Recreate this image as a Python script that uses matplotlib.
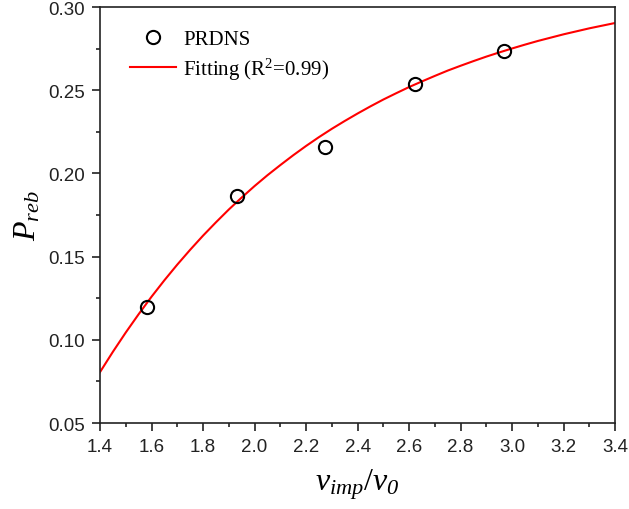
import numpy as np
import matplotlib
matplotlib.use("Agg")
import matplotlib.pyplot as plt
from matplotlib.ticker import MultipleLocator, FormatStrFormatter

# PRDNS data points
v_ratio = [1.583, 1.932, 2.274, 2.623, 2.969]
p_reb = [0.1197, 0.1864, 0.2159, 0.2537, 0.2736]

# fitted curve
fit_x = [1.40, 1.45, 1.50, 1.55, 1.60, 1.65, 1.70, 1.75, 1.80, 1.85,
         1.90, 1.95, 2.00, 2.05, 2.10, 2.15, 2.20, 2.25, 2.30, 2.35,
         2.40, 2.45, 2.50, 2.55, 2.60, 2.65, 2.70, 2.75, 2.80, 2.85,
         2.90, 2.95, 3.00, 3.05, 3.10, 3.15, 3.20, 3.25, 3.30, 3.35, 3.40]
fit_y = [0.0806, 0.0928, 0.1044, 0.1154, 0.1259, 0.1358, 0.1452, 0.1541,
         0.1626, 0.1706, 0.1783, 0.1855, 0.1924, 0.1989, 0.2050, 0.2109,
         0.2165, 0.2218, 0.2268, 0.2315, 0.2360, 0.2403, 0.2444, 0.2482,
         0.2519, 0.2553, 0.2586, 0.2618, 0.2647, 0.2675, 0.2702, 0.2727,
         0.2751, 0.2774, 0.2796, 0.2816, 0.2836, 0.2854, 0.2872, 0.2888,
         0.2904]

plt.rcParams["mathtext.fontset"] = "custom"
plt.rcParams["mathtext.it"] = "Liberation Serif:italic"
plt.rcParams["mathtext.sf"] = "Liberation Serif:italic"
plt.rcParams["mathtext.rm"] = "Liberation Serif"

fig = plt.figure(figsize=(6.29, 5.10), dpi=100)
ax = fig.add_axes([0.159, 0.1686, 0.819, 0.8157])

ax.plot(v_ratio, p_reb, "o", ms=9.5, mfc="none", mec="black", mew=1.5,
        label="PRDNS", zorder=3)
ax.plot(fit_x, fit_y, color="red", lw=1.5,
        label="Fitting (R$^{\\mathrm{2}}$=0.99)")

ax.set_xlim(1.4, 3.4)
ax.set_ylim(0.05, 0.30)
ax.xaxis.set_major_locator(MultipleLocator(0.2))
ax.xaxis.set_minor_locator(MultipleLocator(0.1))
ax.yaxis.set_major_locator(MultipleLocator(0.05))
ax.yaxis.set_minor_locator(MultipleLocator(0.025))
ax.xaxis.set_major_formatter(FormatStrFormatter("%.1f"))
ax.yaxis.set_major_formatter(FormatStrFormatter("%.2f"))

ax.tick_params(which="both", direction="out", top=False, right=False,
               width=1.2, colors="#222222")
ax.tick_params(which="major", length=6, labelsize=13.5, pad=5)
ax.tick_params(which="minor", length=3)
for lab in ax.get_xticklabels() + ax.get_yticklabels():
    lab.set_fontfamily("Liberation Sans")
for s in ax.spines.values():
    s.set_linewidth(1.2)
    s.set_color("#222222")

ax.set_xlabel("$v_{imp}/v_{\\mathsf{0}}$", fontsize=23, labelpad=8)
ax.set_ylabel("$P_{reb}$", fontsize=23, labelpad=4)

ax.legend(loc="upper left", bbox_to_anchor=(0.058, 0.945), frameon=False,
          prop={"family": "Liberation Serif", "size": 15},
          handlelength=2.2, handletextpad=0.35, labelspacing=0.3,
          borderpad=0, borderaxespad=0)

fig.savefig("out.png", dpi=100)
